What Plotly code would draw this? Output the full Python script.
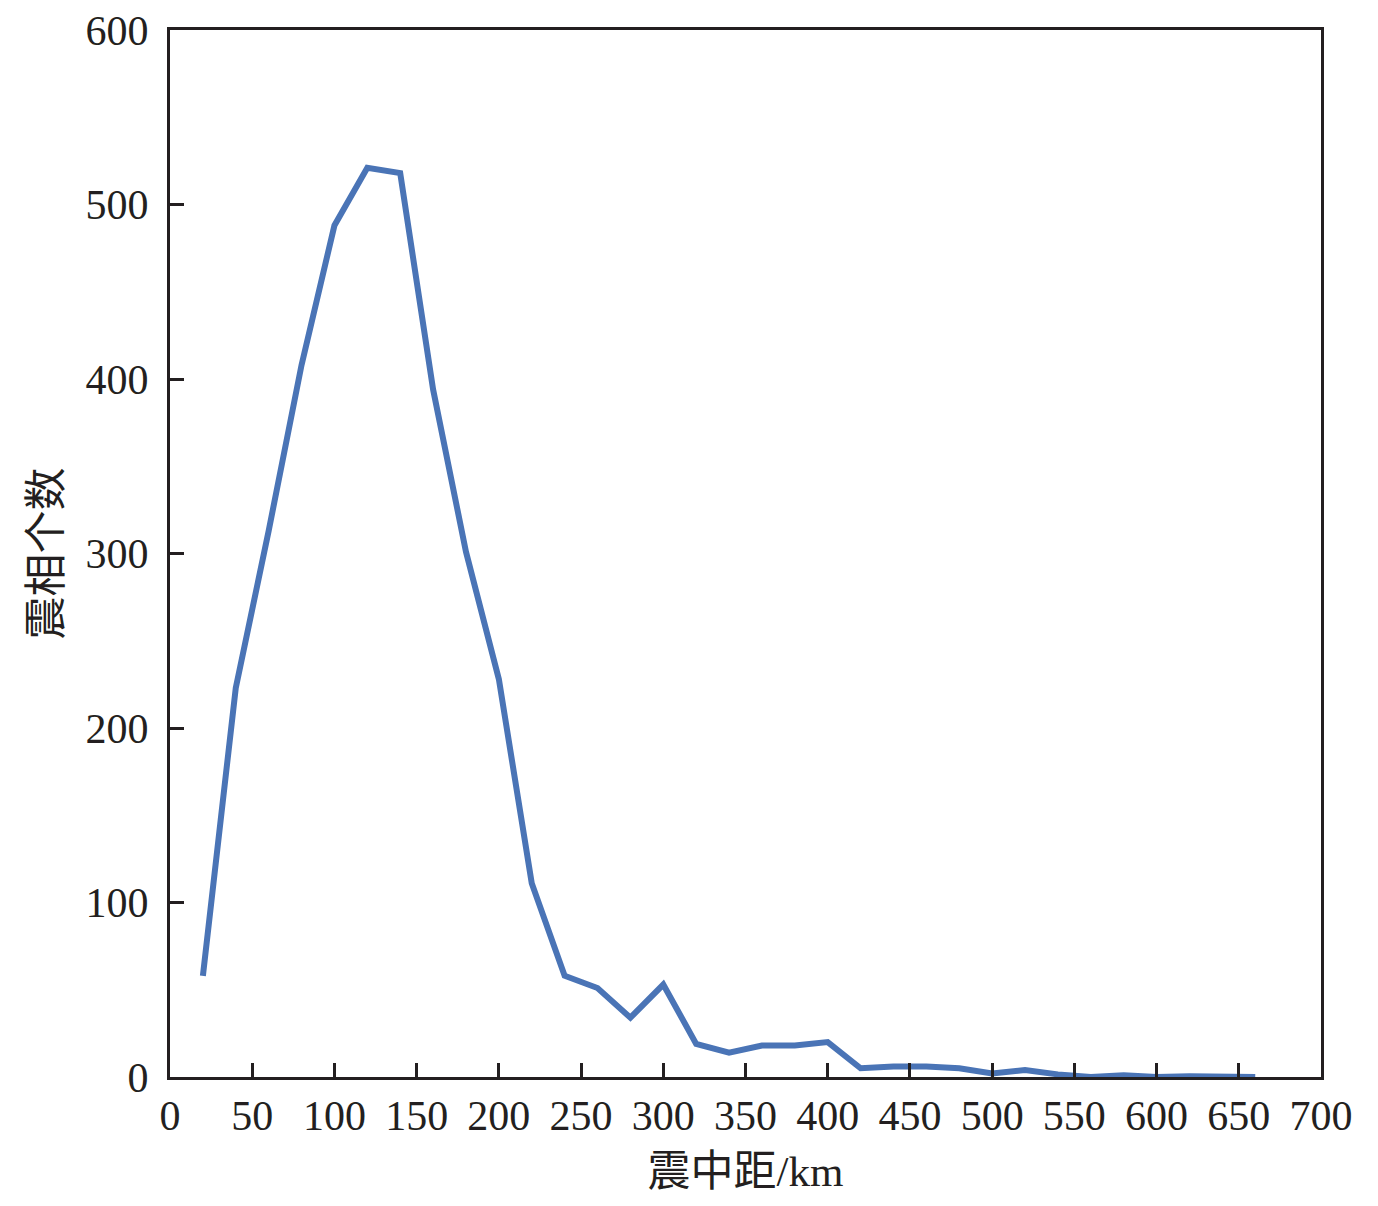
import plotly.graph_objects as go

distance_km = [20, 40, 60, 80, 100, 120, 140, 160, 180, 200, 220, 240, 260, 280, 300,
               320, 340, 360, 380, 400, 420, 440, 460, 480, 500, 520, 540, 560, 580,
               600, 620, 640, 660]
phase_count = [58, 223, 313, 408, 488, 521, 518, 394, 301, 228, 111, 58, 51, 34, 53,
               19, 14, 18, 18, 20, 5, 6, 6, 5, 2, 4, 1.5, 0, 1, 0, 0.5, 0.5, 0]

x_ticks = list(range(0, 701, 50))
y_ticks = list(range(0, 601, 100))

fig = go.Figure()
fig.add_trace(go.Scatter(
    x=distance_km, y=phase_count, mode="lines",
    line=dict(color="#4a74b6", width=6), showlegend=False))

axis_common = dict(
    showline=True, linecolor="#231f20", linewidth=3, mirror=True,
    ticks="inside", ticklen=14, tickwidth=3, tickcolor="#231f20",
    showgrid=False, zeroline=False, automargin=False,
    ticklabeloverflow="allow",
    tickfont=dict(family="Liberation Serif", size=42, color="#231f20"),
)
title_font = dict(family="Liberation Serif, Noto Sans CJK SC", size=43, color="#231f20")

fig.update_layout(
    width=1378, height=1206,
    margin=dict(l=162, r=65, t=22, b=137),
    plot_bgcolor="white", paper_bgcolor="white",
    xaxis=dict(range=[0, 700], tickvals=x_ticks, **axis_common,
               title=dict(text="震中距/km", standoff=18, font=title_font)),
    yaxis=dict(range=[0, 600], tickvals=y_ticks, **axis_common,
               ticklabelstandoff=10,
               title=dict(text="震相个数", standoff=11, font=title_font)),
)
fig.write_html("out.html")
